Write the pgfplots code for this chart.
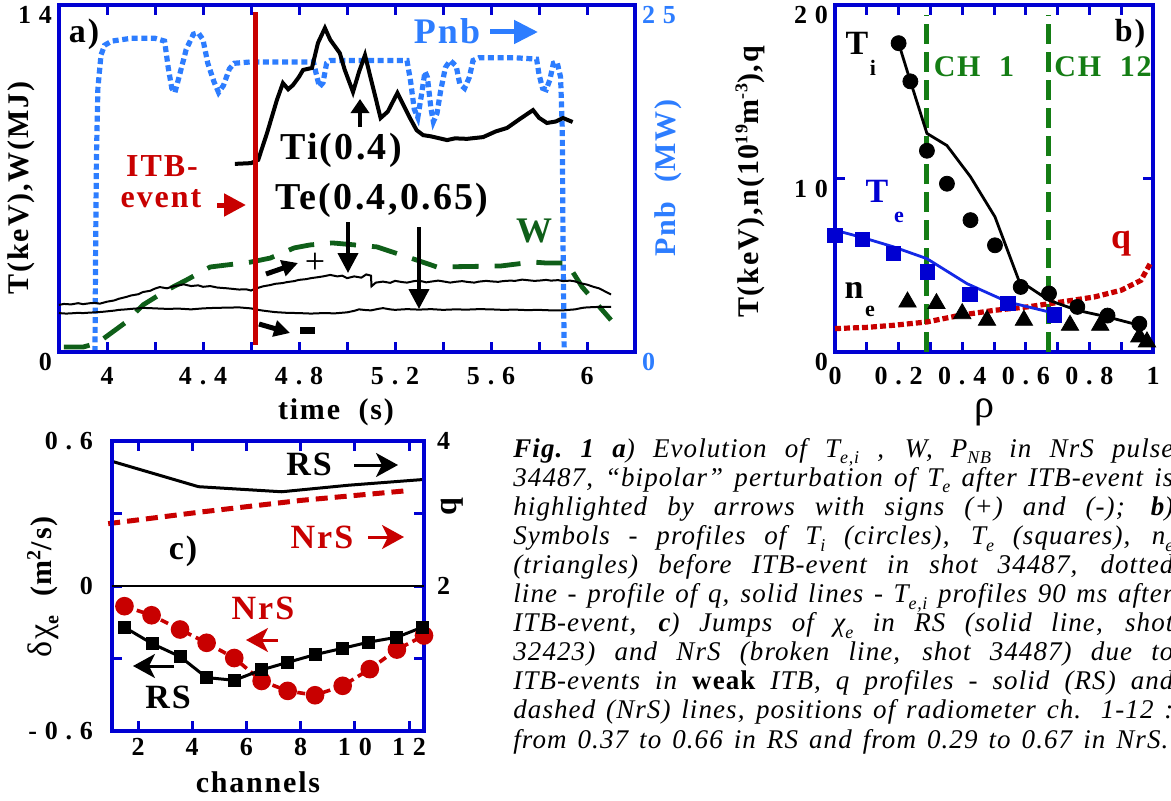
\documentclass[border=0pt]{standalone}
\usepackage{pgfplots}
\pgfplotsset{compat=1.18}
\usepackage{fontspec}
\setmainfont{Liberation Serif}
\newfontfamily\tickfont[LetterSpace=30]{Liberation Serif}
\newfontfamily\lsf[LetterSpace=6]{Liberation Serif}
\newfontfamily\capfont[LetterSpace=4]{Liberation Serif}
\usetikzlibrary{arrows.meta}
\definecolor{frameblue}{RGB}{0,0,210}
\definecolor{pnbblue}{RGB}{45,125,255}
\definecolor{itbred}{RGB}{200,0,0}
\definecolor{wgreen}{RGB}{15,95,25}
\definecolor{chgreen}{RGB}{20,125,20}
\definecolor{teblue}{RGB}{20,40,230}
\newcommand\fs[1]{\fontsize{#1}{#1}\selectfont}
\newcommand\sub[1]{\raisebox{-0.55ex}{\fs{9}#1}}
\pgfplotsset{
  fr/.style={scale only axis, clip=false,
    axis line style={frameblue, line width=1.6pt},
    tick style={frameblue, line width=1.5pt},
    major tick length=5pt, tick align=inside,
    tick label style={font=\tickfont\bfseries\fs{13}},
  },
}
\tikzset{lb/.style={font=\lsf\bfseries\fs{#1}, inner sep=0pt}}
\begin{document}
\begin{tikzpicture}
\path[use as bounding box] (0,0) rectangle (585.5pt,400pt);

% ---------- panel a : Pnb (right axis) ----------
\begin{axis}[fr, at={(29.5pt,224pt)}, anchor=south west, width=288pt, height=173.5pt,
  xmin=3.8, xmax=6.2, ymin=0, ymax=25, hide x axis, axis y line*=right,
  ytick={0,25}, yticklabels={0,25}, major tick length=0pt,
  yticklabel style={text=pnbblue, yshift=-5pt}]
\addplot[pnbblue, line width=2.6pt, dash pattern=on 3pt off 1.8pt] coordinates {
(3.950,0)(3.952,6)(3.956,14)(3.962,19)(3.975,21.4)(3.99,22.1)(4.02,22.4)(4.10,22.6)(4.20,22.6)
(4.24,22.4)(4.255,20.5)(4.27,19.0)(4.283,18.7)(4.30,19.8)(4.33,21.8)(4.36,22.9)(4.38,23.0)
(4.40,22.5)(4.42,20.8)(4.445,19.5)(4.465,18.7)(4.485,19.2)(4.51,20.4)(4.53,20.8)(4.60,20.9)
(4.75,20.9)(4.86,20.9)(4.875,19.8)(4.885,19.1)(4.90,19.4)(4.915,20.8)(4.93,21.0)(5.10,21.0)
(5.25,21.0)(5.265,19.5)(5.28,17.5)(5.295,16.9)(5.31,18.5)(5.325,20.2)(5.335,19.8)(5.35,17.5)
(5.36,16.6)(5.375,17.2)(5.39,18.8)(5.41,20.5)(5.43,21.0)(5.455,20.6)(5.47,19.3)(5.49,19.0)
(5.51,19.8)(5.525,21.0)(5.55,21.2)(5.70,21.2)(5.79,21.1)(5.80,20.0)(5.815,19.0)(5.83,18.9)
(5.845,19.6)(5.86,20.8)(5.875,20.9)(5.89,19.8)(5.897,16)(5.90,8)(5.905,0)};
\end{axis}

% ---------- panel a : main axis ----------
\begin{axis}[fr, at={(29.5pt,224pt)}, anchor=south west, width=288pt, height=173.5pt,
  xmin=3.8, xmax=6.2, ymin=0, ymax=14,
  xtick={4,4.2,4.4,4.6,4.8,5,5.2,5.4,5.6,5.8,6},
  xticklabels={4,,4.4,,4.8,,5.2,,5.6,,6},
  ytick={0,14}, yticklabels={0,14}, ytick pos=left,
  xticklabel style={yshift=-4pt}, yticklabel style={yshift=-5pt}]
% W
\addplot[wgreen, line width=2.4pt, dash pattern=on 13pt off 8pt] coordinates {
(3.82,0.2)(3.90,0.2)(3.96,0.36)(4.08,1.21)(4.15,1.90)(4.25,2.50)(4.33,2.9)(4.43,3.43)(4.6,3.63)
(4.68,3.79)(4.78,4.2)(4.846,4.32)(4.94,4.4)(5.125,4.24)(5.29,3.71)(5.375,3.43)(5.64,3.47)
(5.775,3.63)(5.83,3.59)(5.917,3.59)(5.98,2.62)(6.1,1.29)};
% Te(0.4)
\addplot[black, line width=1pt] coordinates {
(3.8,1.90)(3.82,1.94)(3.85,1.92)(3.88,1.97)(3.9,1.93)(3.93,1.97)(3.95,1.98)(3.97,1.95)(4.0,2.03)
(4.03,2.08)(4.05,2.15)(4.08,2.22)(4.1,2.28)(4.13,2.33)(4.15,2.42)(4.18,2.47)(4.2,2.56)(4.22,2.62)
(4.25,2.57)(4.28,2.66)(4.3,2.69)(4.32,2.73)(4.35,2.66)(4.38,2.69)(4.4,2.63)(4.43,2.66)(4.46,2.60)
(4.5,2.57)(4.53,2.54)(4.55,2.52)(4.58,2.53)(4.6,2.48)(4.62,2.56)(4.65,2.65)(4.68,2.70)(4.7,2.75)
(4.73,2.78)(4.75,2.82)(4.78,2.86)(4.8,2.91)(4.83,2.94)(4.85,2.98)(4.88,3.02)(4.9,3.05)(4.93,3.11)
(4.96,3.05)(4.98,3.08)(5.0,2.98)(5.03,3.05)(5.06,3.0)(5.08,3.13)(5.1,3.08)(5.102,2.65)(5.12,2.80)
(5.15,2.84)(5.18,2.79)(5.2,2.87)(5.23,2.82)(5.25,2.80)(5.28,2.86)(5.3,2.88)(5.33,2.81)(5.35,2.84)
(5.38,2.88)(5.4,2.85)(5.43,2.80)(5.45,2.83)(5.48,2.86)(5.5,2.83)(5.53,2.80)(5.55,2.84)(5.58,2.87)
(5.6,2.85)(5.63,2.83)(5.65,2.86)(5.68,2.88)(5.7,2.87)(5.73,2.92)(5.75,2.90)(5.78,2.87)(5.8,2.88)
(5.83,2.91)(5.85,2.88)(5.88,2.90)(5.9,2.86)(5.93,2.88)(5.95,2.85)(5.97,2.78)(6.0,2.72)(6.03,2.62)
(6.05,2.57)(6.08,2.42)(6.1,2.32)};
% Te(0.65)
\addplot[black, line width=1pt] coordinates {
(3.8,1.57)(3.83,1.55)(3.85,1.56)(3.88,1.58)(3.9,1.57)(3.93,1.59)(3.95,1.60)(3.98,1.62)(4.0,1.64)
(4.03,1.67)(4.05,1.70)(4.08,1.72)(4.1,1.74)(4.13,1.76)(4.15,1.78)(4.18,1.77)(4.2,1.76)(4.25,1.74)
(4.3,1.75)(4.35,1.72)(4.4,1.76)(4.45,1.78)(4.5,1.79)(4.55,1.80)(4.6,1.76)(4.63,1.70)(4.65,1.67)
(4.7,1.61)(4.75,1.58)(4.8,1.57)(4.85,1.55)(4.9,1.57)(4.95,1.56)(5.0,1.60)(5.03,1.66)(5.05,1.72)
(5.08,1.69)(5.1,1.68)(5.13,1.74)(5.15,1.77)(5.18,1.72)(5.2,1.70)(5.25,1.73)(5.3,1.71)(5.35,1.73)
(5.4,1.70)(5.45,1.72)(5.5,1.71)(5.55,1.73)(5.6,1.72)(5.65,1.70)(5.7,1.71)(5.75,1.69)(5.8,1.70)
(5.85,1.68)(5.9,1.68)(5.95,1.72)(5.98,1.78)(6.0,1.80)(6.05,1.82)(6.1,1.82)};
% Ti(0.4)
\addplot[black, line width=2pt] coordinates {
(4.533,7.59)(4.60,7.62)(4.63,7.75)(4.667,8.84)(4.708,10.17)(4.733,10.85)(4.755,10.6)(4.775,10.77)
(4.80,11.1)(4.817,11.38)(4.854,11.46)(4.879,12.47)(4.908,13.07)(4.93,12.6)(4.97,12.06)(4.99,11.4)
(5.025,10.49)(5.05,11.3)(5.075,11.98)(5.10,11.0)(5.14,9.44)(5.17,9.7)(5.21,10.45)(5.26,9.48)
(5.29,8.95)(5.317,8.75)(5.35,8.7)(5.417,8.55)(5.45,8.62)(5.5,8.6)(5.567,8.67)(5.62,8.9)
(5.667,9.04)(5.72,9.4)(5.775,9.76)(5.80,9.45)(5.833,9.24)(5.87,9.3)(5.9,9.44)(5.94,9.28)};
% ITB event
\addplot[itbred, line width=2.5pt] coordinates {(4.617,0.28)(4.617,13.72)};
\end{axis}

% ---------- panel b ----------
\begin{axis}[fr, at={(417.5pt,224pt)}, anchor=south west, width=159pt, height=173.5pt,
  xmin=0, xmax=1, ymin=0, ymax=20,
  xtick={0,0.1,0.2,0.3,0.4,0.5,0.6,0.7,0.8,0.9,1},
  xticklabels={0,,0.2,,0.4,,0.6,,0.8,,1},
  ytick={0,10,20}, yticklabels={0,10,20},
  xticklabel style={yshift=-4pt}, yticklabel style={yshift=-5pt}]
\addplot[chgreen, line width=2.5pt, dash pattern=on 10pt off 4pt] coordinates {(0.289,0)(0.289,19.4)};
\addplot[chgreen, line width=2.5pt, dash pattern=on 10pt off 4pt] coordinates {(0.671,0)(0.671,19.4)};
\addplot[itbred, line width=2.6pt, dash pattern=on 3pt off 1.5pt] coordinates {
(0,1.35)(0.1,1.42)(0.184,1.54)(0.289,1.73)(0.394,2.12)(0.5,2.4)(0.605,2.6)(0.71,2.88)(0.815,3.17)
(0.9,3.56)(0.962,4.13)(0.994,5.19)};
\addplot[black, line width=1.4pt] coordinates {
(0.2,17.8)(0.232,15.9)(0.289,12.6)(0.352,11.9)(0.426,10.1)(0.503,7.79)(0.578,4.13)(0.673,2.98)
(0.762,2.4)(0.857,2.02)(0.957,1.54)};
\addplot[teblue, line width=1.4pt] coordinates {
(0,7.02)(0.086,6.6)(0.184,6.06)(0.289,5.38)(0.415,3.94)(0.544,2.88)(0.673,2.31)};
\addplot[only marks, mark=*, mark size=3.75pt, black] coordinates {
(0.2,17.8)(0.237,15.6)(0.289,11.6)(0.352,9.7)(0.426,7.6)(0.503,6.15)(0.584,3.75)(0.673,3.37)
(0.762,2.6)(0.857,2.1)(0.957,1.63)};
\addplot[only marks, mark=square*, mark size=3.6pt, frameblue] coordinates {
(0,6.73)(0.086,6.48)(0.184,5.67)(0.291,4.62)(0.424,3.31)(0.544,2.79)(0.689,2.15)};
\addplot[only marks, mark=triangle*, mark size=5pt, black] coordinates {
(0.228,2.88)(0.319,2.79)(0.4,2.21)(0.478,1.83)(0.594,1.83)(0.739,1.54)(0.834,1.54)(0.957,0.87)(0.981,0.58)};
\end{axis}

% ---------- panel c : q (right axis) ----------
\begin{axis}[fr, at={(56pt,34.5pt)}, anchor=south west, width=156pt, height=145pt,
  xmin=1.04, xmax=12.55, ymin=0, ymax=4, hide x axis, axis y line*=right,
  ytick={2,4}, yticklabels={2,4}, major tick length=0pt, yticklabel style={xshift=3pt}]
\addplot[black, line width=1.5pt] coordinates {(1.04,3.72)(4.23,3.37)(7.3,3.30)(9.76,3.39)(12.55,3.47)};
\addplot[itbred, line width=2.5pt, dash pattern=on 6pt off 3.5pt] coordinates {(0.9,2.86)(4.3,3.02)(7.98,3.18)(11.79,3.31)};
\end{axis}

% ---------- panel c : delta chi ----------
\begin{axis}[fr, at={(56pt,34.5pt)}, anchor=south west, width=156pt, height=145pt,
  xmin=1.04, xmax=12.55, ymin=-0.6, ymax=0.6,
  xtick={2,4,6,8,10,12}, xticklabels={2,4,6,8,10,12},
  ytick={-0.6,-0.3,0,0.3,0.6}, yticklabels={-0.6,,0,,0.6},
  yticklabel style={xshift=-6pt}]
\addplot[black, line width=1.2pt] coordinates {(1.04,0)(12.55,0)};
\addplot[itbred, line width=1.8pt, dash pattern=on 4pt off 2.5pt, mark=*, mark size=3.75pt, mark options={solid}] coordinates {
(1.5,-0.0835)(2.5,-0.121)(3.55,-0.18)(4.53,-0.235)(5.55,-0.298)(6.56,-0.393)(7.52,-0.434)
(8.53,-0.452)(9.55,-0.413)(10.55,-0.344)(11.55,-0.263)(12.55,-0.205)};
\addplot[black, line width=1.5pt, mark=square*, mark size=2.5pt] coordinates {
(1.49,-0.17)(2.53,-0.239)(3.55,-0.292)(4.53,-0.379)(5.55,-0.39)(6.56,-0.347)(7.52,-0.316)
(8.53,-0.284)(9.54,-0.258)(10.52,-0.232)(11.55,-0.212)(12.5,-0.17)};
\end{axis}

% ---------- annotations (pixel coordinates) ----------
\begin{scope}[x=0.5pt, y=-0.5pt, yshift=400pt]
% panel a
\node[lb=17] at (84,34) {a)};
\node[lb=18, text=pnbblue] at (447,31) {Pnb};
\draw[pnbblue, line width=2.5pt, -{Triangle[length=12pt,width=11.5pt]}] (490,32) -- (538,32);
\node[lb=19] at (341,150) {Ti(0.4)};
\node[lb=19] at (382,200) {Te(0.4,0.65)};
\node[lb=16, text=itbred] at (162,166) {ITB-};
\node[lb=16, text=itbred] at (161,199) {event};
\draw[itbred, line width=2.5pt, -{Triangle[length=11pt,width=11pt]}] (217,205) -- (246,205);
\node[lb=18, text=wgreen] at (534,231) {W};
\draw[line width=2pt, -{Triangle[length=7pt,width=9pt]}] (360,127) -- (360,99);
\draw[line width=2pt, -{Triangle[length=10pt,width=10pt]}] (348,222) -- (348,273);
\draw[line width=2pt, -{Triangle[length=10pt,width=10pt]}] (419,227) -- (419,309);
\draw[line width=2.5pt, -{Triangle[length=8pt,width=8pt]}] (266,274) -- (298,263);
\node[font=\fs{18}] at (315,263) {+};
\draw[line width=2.5pt, -{Triangle[length=8pt,width=8pt]}] (259,324) -- (290,333);
\fill (300,327) rectangle (315,334);
\node[lb=15, rotate=90] at (21,188) {T(keV),W(MJ)};
\node[lb=15] at (336,412) {time\ \ (s)};
\node[lb=15, rotate=90, text=pnbblue] at (668,178) {Pnb\ \ (MW)};
% panel b
\node[lb=17] at (857,43) {T};
\node[lb=11] at (873,68) {i};
\node[lb=15, text=chgreen] at (974,67) {CH\ \ 1};
\node[lb=15, text=chgreen] at (1103,67) {CH\ \ 12};
\node[lb=16] at (1130,34) {b)};
\node[lb=17, text=frameblue] at (877,191) {T};
\node[lb=11, text=frameblue] at (899,217) {e};
\node[lb=18, text=itbred] at (1121,244) {q};
\node[lb=17] at (854,290) {n};
\node[lb=11] at (870,311) {e};
\node[font=\fs{20}, inner sep=0pt] at (984,412) {ρ};
\node[lb=15, rotate=90] at (750,182) {T(keV),n(10\raisebox{0.8ex}{\fs{9}19}m\raisebox{0.8ex}{\fs{9}-3}),q};
% panel c
\node[lb=17] at (309,464) {RS};
\draw[line width=1.5pt, -{Stealth[length=11pt,width=12pt,inset=3pt]}] (354,465) -- (398,465);
\node[lb=17, text=itbred] at (322,537) {NrS};
\draw[itbred, line width=1.5pt, -{Stealth[length=11pt,width=12pt,inset=3pt]}] (368,537) -- (404,537);
\node[lb=17] at (183,551) {c)};
\node[lb=17, text=itbred] at (263,608) {NrS};
\draw[itbred, line width=1.5pt, -{Stealth[length=11pt,width=12pt,inset=3pt]}] (278,640) -- (246,640);
\draw[line width=1.5pt, -{Stealth[length=11pt,width=12pt,inset=3pt]}] (174,666) -- (133,666);
\node[lb=17] at (168,697) {RS};
\node[lb=15, rotate=90] at (43,587) {{\mdseries\fs{17}δχ}\raisebox{-0.5ex}{\fs{10}e}\ \ (m\raisebox{0.8ex}{\fs{10}2}/s)};
\node[lb=16, rotate=90] at (452,507) {q};
\node[lb=15] at (258,782) {channels};
% caption
\begin{scope}[every node/.style={anchor=base west, inner sep=0pt, font=\capfont\itshape\fs{13.5}}]
\node at (513,457) {\makebox[330pt][s]{\textbf{Fig.\ 1 a}) Evolution of T\sub{e,i} , W, P\sub{NB} in NrS pulse}};
\node at (513,486.1) {\makebox[330pt][s]{34487, “bipolar” perturbation of T\sub{e} after ITB-event is}};
\node at (513,515.2) {\makebox[330pt][s]{highlighted by arrows with signs (+) and (-); \textbf{b})}};
\node at (513,544.3) {\makebox[330pt][s]{Symbols - profiles of T\sub{i} (circles), T\sub{e} (squares), n\sub{e}}};
\node at (513,573.4) {\makebox[330pt][s]{(triangles) before ITB-event in shot 34487, dotted}};
\node at (513,602.5) {\makebox[330pt][s]{line - profile of q, solid lines - T\sub{e,i} profiles 90 ms after}};
\node at (513,631.6) {\makebox[330pt][s]{ITB-event, \textbf{c}) Jumps of χ\sub{e} in RS (solid line, shot}};
\node at (513,660.7) {\makebox[330pt][s]{32423) and NrS (broken line, shot 34487) due to}};
\node at (513,689.8) {\makebox[330pt][s]{ITB-events in \textbf{\upshape weak} ITB, q profiles - solid (RS) and}};
\node at (513,718.9) {\makebox[330pt][s]{dashed (NrS) lines, positions of radiometer ch. 1-12 :}};
\node at (513,748) {\makebox[327.5pt][s]{from 0.37 to 0.66 in RS and from 0.29 to 0.67 in NrS.}};
\end{scope}
\end{scope}
\end{tikzpicture}
\end{document}
